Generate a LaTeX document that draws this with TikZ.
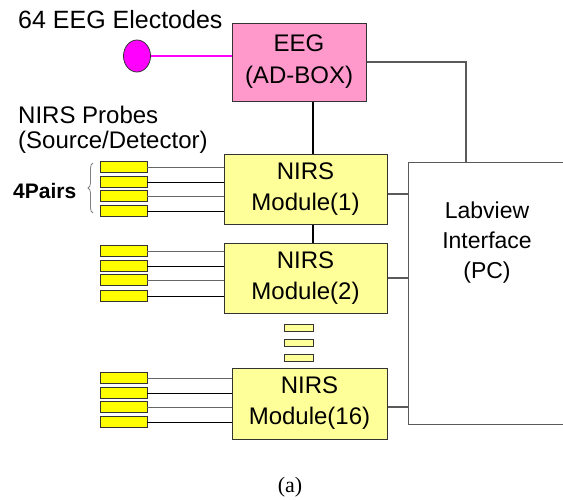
\documentclass[tikz,border=0pt]{standalone}
\usepackage{fontspec}
\setmainfont{Liberation Sans}
\newfontfamily\capfont{Liberation Serif}
\usetikzlibrary{decorations.pathreplacing}
\definecolor{eegpink}{HTML}{FF99CC}
\definecolor{nirsyellow}{HTML}{FFFF99}
\definecolor{probeyellow}{HTML}{FFFF00}
\definecolor{elecmagenta}{HTML}{FF00FF}
\definecolor{wiregray}{HTML}{5A5A5A}
\tikzset{
	eegbox/.style={draw=black!80,fill=eegpink,line width=1pt,minimum width=134pt,minimum height=78pt,align=center,font=\fontsize{24}{32}\selectfont},
	nirsbox/.style={draw=black!80,fill=nirsyellow,line width=1pt,minimum height=70pt,align=center,font=\fontsize{24}{31}\selectfont},
	probe/.style={draw=black!80,fill=probeyellow,line width=0.8pt,minimum width=47pt,minimum height=11pt,inner sep=0pt},
	dotbox/.style={draw=black!80,fill=nirsyellow,line width=0.8pt,minimum width=29pt,minimum height=7pt,inner sep=0pt},
	electrode/.style={ellipse,draw=black!80,fill=elecmagenta,line width=0.8pt,minimum width=27pt,minimum height=32pt,inner sep=0pt},
	wire/.style={draw=wiregray,line width=1.2pt},
	link/.style={draw=black,line width=2pt},
}
\usetikzlibrary{shapes.geometric}
\begin{document}
\begin{tikzpicture}[x=1pt,y=-1pt]
	\useasboundingbox[fill=white] (0,0) rectangle (563,499);
	\node[anchor=base west,inner sep=0pt,font=\fontsize{25}{30}\selectfont] (eegtitle) at (18,28) {64 EEG Electodes};
	\node[anchor=base west,inner sep=0pt,font=\fontsize{24}{26}\selectfont] (nirstitle) at (18,123) {NIRS Probes};
	\node[anchor=base west,inner sep=0pt,font=\fontsize{24}{26}\selectfont] (srcdet) at (18,148) {(Source/Detector)};
	\node[anchor=base west,inner sep=0pt,font=\fontsize{21}{24}\selectfont\bfseries] (pairs) at (13,198) {4Pairs};

	\node[electrode] (elec) at (137,56) {};
	\node[eegbox] (eeg) at (299,62) {EEG\\(AD-BOX)};
	\node[nirsbox,minimum width=163pt] (m1) at (305.5,189) {NIRS\\Module(1)};
	\node[nirsbox,minimum width=163pt] (m2) at (305.5,278) {NIRS\\Module(2)};
	\node[nirsbox,minimum width=155pt,minimum height=71pt] (m16) at (309.5,403.5) {NIRS\\Module(16)};
	\node[fill=white,minimum width=156pt,minimum height=261pt,inner sep=0pt] (pc) at (487,293.5) {};
	\node[align=center,font=\fontsize{23}{30}\selectfont] (pctext) at (487,243) {Labview\\Interface\\(PC)};

	\foreach \i/\y in {1/327.5,2/342.5,3/357.5}
		\node[dotbox] (dot\i) at (298.5,\y) {};

	\coordinate (bus) at (313,0);
	\coordinate (pcdrop) at (466,0);

	\draw[draw=elecmagenta,line width=1.5pt] (elec.east) -- (elec.east -| eeg.west);
	\draw[link] (eeg.south -| bus) -- (m1.north -| bus);
	\draw[link] (m1.south -| bus) -- (m2.north -| bus);
	\draw[wire] (eeg.east) -| (pcdrop |- pc.north);
	\draw[wire] (pc.north east) -- (pc.north west) -- (pc.south west) -- (pc.south east);
	\draw[wire] ([yshift=-5pt]m1.east) -- ([yshift=-5pt]m1.east -| pc.west);
	\draw[wire] (m2.east) -- (m2.east -| pc.west);
	\draw[wire] ([yshift=-3.5pt]m16.east) -- ([yshift=-3.5pt]m16.east -| pc.west);

	\foreach \m/\ya/\yb/\yc/\yd in {m1/167/182/196/211,m2/251/266/280/296,m16/378/393/407/422}
		\foreach \y [count=\i] in {\ya,\yb,\yc,\yd} {
			\node[probe] (\m-p\i) at (123.5,\y) {};
			\pgfmathsetmacro{\shade}{isodd(\i) ? 60 : 100}
			\draw[draw=black!\shade,line width=1pt] (\m-p\i.east) -- (\m-p\i.east -| \m.west);
		}

	\draw[decorate,decoration={brace,amplitude=5pt},draw=gray,line width=0.8pt] (93,213) -- (93,163);

	\node[font=\capfont\fontsize{22}{24}\selectfont] (caption) at (290,487) {(a)};
\end{tikzpicture}
\end{document}
